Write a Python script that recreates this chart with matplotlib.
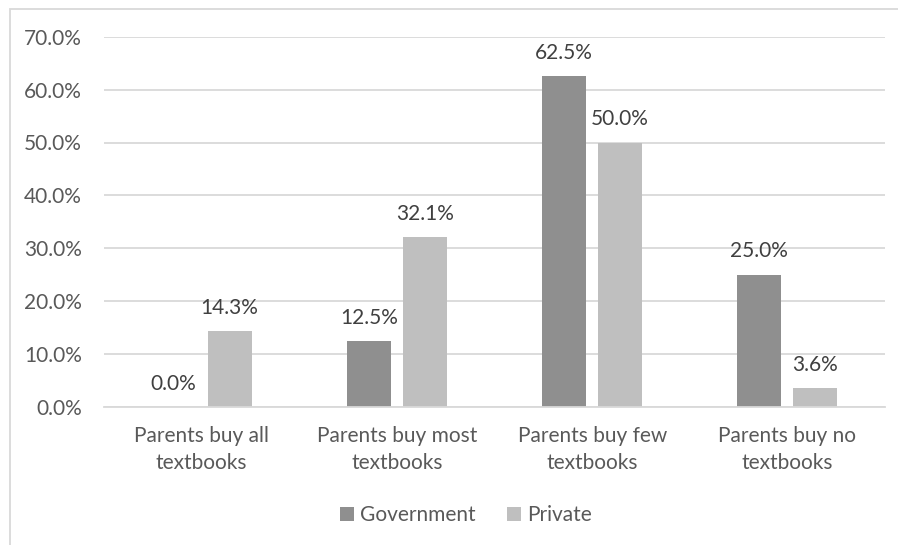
import numpy as np
import matplotlib.pyplot as plt
from matplotlib.patches import Rectangle
from matplotlib.ticker import FuncFormatter, MultipleLocator

plt.rcParams['font.family'] = ['Lato', 'DejaVu Sans']

# share of schools (%) by how parents obtain textbooks
categories = ["Parents buy all\ntextbooks", "Parents buy most\ntextbooks",
              "Parents buy few\ntextbooks", "Parents buy no\ntextbooks"]
government = [0.0, 12.5, 62.5, 25.0]
private = [14.3, 32.1, 50.0, 3.6]
series_names = ["Government", "Private"]

c_gov = "#8f8f8f"
c_priv = "#bfbfbf"
c_grid = "#d9d9d9"
c_tick = "#595959"
c_label = "#404040"
fs = 15

W, H = 898, 545
fig = plt.figure(figsize=(W / 100, H / 100), dpi=100)

# chart border (its right and bottom edges fall outside the image)
fig.patches.append(Rectangle((10 / W, -0.1), 1.2, 1 - 9 / H + 0.1,
                             transform=fig.transFigure, fill=False,
                             edgecolor=c_grid, lw=1.3))

ax = fig.add_axes([104 / W, 1 - 407 / H, (885 - 104) / W, (407 - 36.7) / H])

x = np.arange(len(categories))
w = 0.225
off = 0.1434
b1 = ax.bar(x - off, government, w, color=c_gov, label=series_names[0], zorder=3)
b2 = ax.bar(x + off, private, w, color=c_priv, label=series_names[1], zorder=3)

for bars, vals in ((b1, government), (b2, private)):
    for rect, v in zip(bars, vals):
        ax.annotate(f"{v:.1f}%", (rect.get_x() + rect.get_width() / 2, v),
                    xytext=(0, 12.5), textcoords="offset points",
                    ha="center", va="baseline", fontsize=fs, color=c_label)

ax.set_xlim(-0.5, len(categories) - 0.5)
ax.set_ylim(0, 70)
ax.yaxis.set_major_locator(MultipleLocator(10))
ax.yaxis.set_major_formatter(FuncFormatter(lambda v, p: f"{v:.1f}%"))
ax.set_xticks(x)
ax.set_xticklabels(categories, linespacing=1.43)
ax.tick_params(axis="y", length=0, pad=16, labelsize=fs, labelcolor=c_tick)
ax.tick_params(axis="x", length=0, pad=14, labelsize=fs, labelcolor=c_tick)

ax.grid(axis="y", color=c_grid, lw=1.3, zorder=0)
for s in ("top", "right", "left"):
    ax.spines[s].set_visible(False)
ax.spines["bottom"].set_color(c_grid)
ax.spines["bottom"].set_linewidth(1.3)
ax.spines["bottom"].set_zorder(4)

fig.legend(handles=[b1, b2], loc="center", bbox_to_anchor=(466 / W, 1 - 515 / H),
           ncol=2, frameon=False, fontsize=fs, labelcolor=c_tick,
           handlelength=0.65, handleheight=0.65, handletextpad=0.3,
           columnspacing=1.5)

fig.savefig("out.png", dpi=100)
